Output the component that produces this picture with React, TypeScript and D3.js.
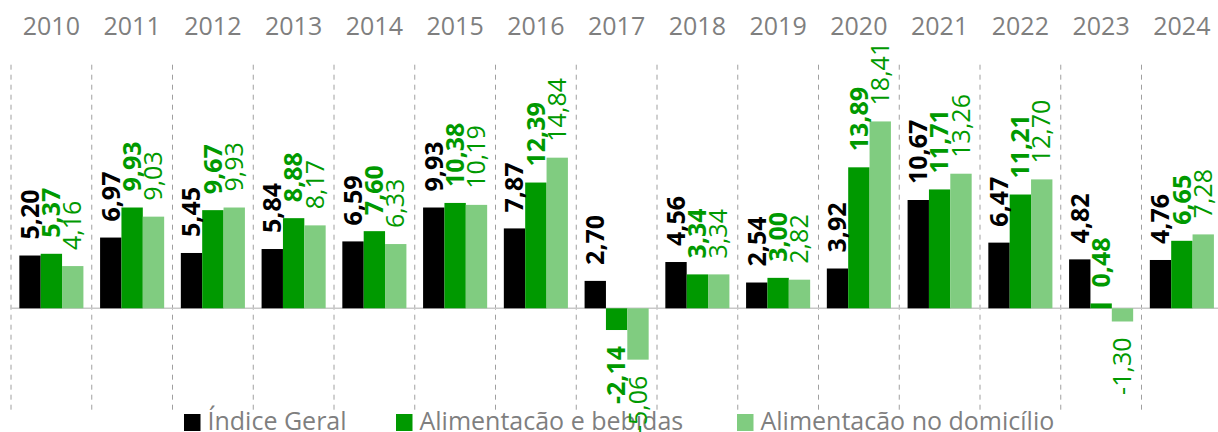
import React from "react";
import * as d3 from "d3";

const years = ["2010","2011","2012","2013","2014","2015","2016","2017","2018","2019","2020","2021","2022","2023","2024"];
const indiceGeral = [5.20, 6.97, 5.45, 5.84, 6.59, 9.93, 7.87, 2.70, 4.56, 2.54, 3.92, 10.67, 6.47, 4.82, 4.76];
const alimentacaoBebidas = [5.37, 9.93, 9.67, 8.88, 7.60, 10.38, 12.39, -2.14, 3.34, 3.00, 13.89, 11.71, 11.21, 0.48, 6.65];
const alimentacaoDomicilio = [4.16, 9.03, 9.93, 8.17, 6.33, 10.19, 14.84, -5.06, 3.34, 2.82, 18.41, 13.26, 12.70, -1.30, 7.28];
const seriesNames = ["Índice Geral", "Alimentacão e bebidas", "Alimentacão no domicílio"];

const W = 1218, H = 432;
const FONT = "'Open Sans', sans-serif";
const GREY = "#7f7f7f";
const colors = ["#000000", "#009900", "#80cc80"];
const labelColors = ["#000000", "#009900", "#009900"];
const labelWeights = [700, 700, 400];

export default function App() {
  const seriesData = [indiceGeral, alimentacaoBebidas, alimentacaoDomicilio];
  const x = d3.scaleBand<string>().domain(years).range([11, 11 + 15 * 80.75]).padding(0);
  const bw = x.bandwidth();
  const xs = d3.scaleBand<string>().domain(["0", "1", "2"]).range([0, bw]).paddingInner(0).paddingOuter(0.39);
  const y = d3.scaleLinear().domain([-10, 24]).range([409.8, 64.7]);
  const y0 = y(0);

  return (
    <svg width={W} height={H} style={{ position: "absolute", left: 0, top: 0, background: "#fff" }} fontFamily={FONT}>
      {/* dashed separators */}
      {years.map((yr) => (
        <line key={"d" + yr} x1={x(yr)!} x2={x(yr)!} y1={y(24)} y2={y(-10)} stroke="#a0a0a0" strokeWidth={1} strokeDasharray="5,5" />
      ))}
      {/* axis line */}
      <line x1={x.range()[0]} x2={x.range()[1]} y1={y0} y2={y0} stroke="#c8c8c8" strokeWidth={1.5} />
      {/* year labels */}
      {years.map((yr) => (
        <text key={"y" + yr} x={x(yr)! + bw / 2} y={35} textAnchor="middle" fontSize={25} fill={GREY}>{yr}</text>
      ))}
      {/* bars */}
      {seriesData.map((vals, si) =>
        vals.map((v, i) => {
          const bx = x(years[i])! + xs(String(si))!;
          return (
            <rect key={`b${si}-${i}`} x={bx} y={Math.min(y(v), y0)} width={xs.bandwidth()} height={Math.abs(y(v) - y0)} fill={colors[si]} />
          );
        })
      )}
      {/* legend */}
      {seriesNames.map((n, si) => {
        const lx = [184, 396, 737][si];
        return (
          <g key={"l" + si}>
            <rect x={lx} y={414} width={16.5} height={17} fill={colors[si]} />
            <text x={lx + 23.5} y={430} fontSize={25} fill={GREY}>{n}</text>
          </g>
        );
      })}
      {/* value labels */}
      {seriesData.map((vals, si) =>
        vals.map((v, i) => {
          const cx = x(years[i])! + xs(String(si))! + xs.bandwidth() / 2;
          const pos = v >= 0;
          const ty = pos ? y(v) - 16 : y(v) + 16;
          return (
            <text
              key={`t${si}-${i}`}
              transform={`translate(${cx},${ty}) rotate(-90)`}
              dy="0.35em"
              textAnchor={pos ? "start" : "end"}
              fontSize={25}
              fontWeight={labelWeights[si]}
              fill={labelColors[si]}
            >
              {d3.format(".2f")(v).replace(".", ",").replace("−", "-")}
            </text>
          );
        })
      )}
    </svg>
  );
}
